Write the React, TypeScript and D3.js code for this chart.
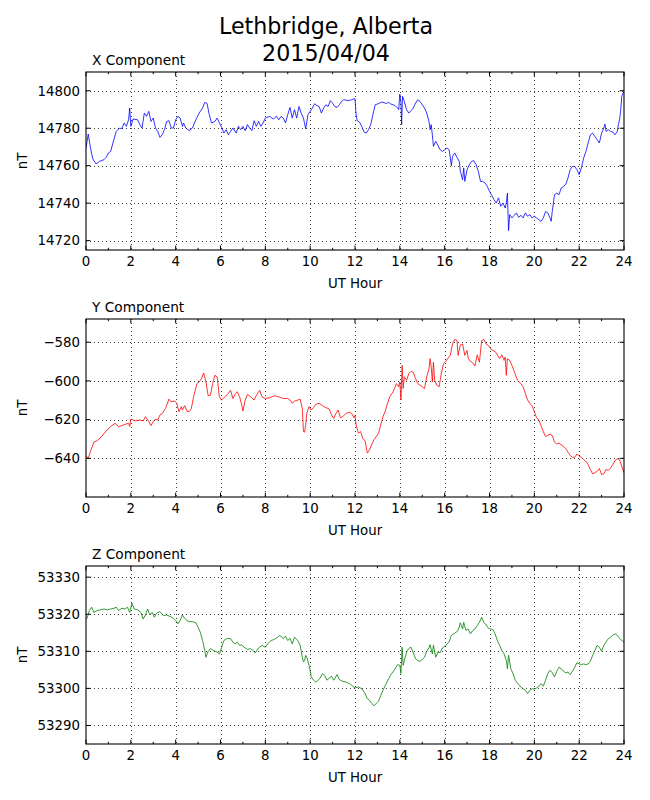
import * as d3 from 'd3';

// Magnetometer readings, [UT hour, nT]
const xComponent: [number, number][] = [
  [0, 14769.4], [0.1, 14776.9], [0.2, 14769.4], [0.3, 14763.7], [0.45, 14760.9], [0.6, 14762.3], [0.8, 14763.2], [0.9, 14764.4],
  [1.0, 14766.8], [1.1, 14767.6], [1.2, 14772.1], [1.35, 14778.3], [1.5, 14780.1], [1.6, 14779.7], [1.7, 14782.8], [1.8, 14781.0],
  [1.9, 14784.5], [1.95, 14790.8], [2.0, 14781.0], [2.1, 14784.9], [2.3, 14784.5], [2.4, 14781.9], [2.5, 14780.1], [2.6, 14788.1],
  [2.7, 14786.3], [2.8, 14789.0], [2.9, 14783.6], [3.0, 14785.4], [3.1, 14780.1], [3.2, 14778.3], [3.3, 14775.1], [3.4, 14776.5],
  [3.5, 14779.2], [3.6, 14783.6], [3.7, 14784.0], [3.8, 14780.1], [3.9, 14780.1], [4.0, 14784.5], [4.1, 14786.3], [4.2, 14785.4],
  [4.3, 14781.0], [4.35, 14782.8], [4.45, 14780.1], [4.6, 14778.7], [4.75, 14780.1], [4.9, 14784.5], [5.05, 14788.1], [5.2, 14790.8],
  [5.3, 14793.8], [5.4, 14793.2], [5.5, 14787.2], [5.6, 14782.8], [5.75, 14783.6], [5.85, 14785.4], [5.95, 14782.8], [6.05, 14780.4],
  [6.15, 14777.4], [6.25, 14779.2], [6.35, 14776.5], [6.45, 14778.3], [6.55, 14780.1], [6.7, 14777.4], [6.8, 14781.0], [6.9, 14779.2],
  [7.0, 14781.0], [7.1, 14778.7], [7.2, 14781.9], [7.3, 14780.1], [7.4, 14778.7], [7.5, 14784.0], [7.6, 14781.0], [7.7, 14783.6],
  [7.8, 14781.0], [7.9, 14782.8], [8.0, 14785.4], [8.2, 14786.3], [8.35, 14784.9], [8.5, 14786.3], [8.6, 14784.5], [8.7, 14786.3],
  [8.8, 14785.4], [8.9, 14782.8], [9.0, 14787.2], [9.1, 14791.1], [9.2, 14785.4], [9.3, 14789.9], [9.4, 14785.4], [9.5, 14791.6],
  [9.6, 14788.1], [9.7, 14785.4], [9.8, 14779.7], [9.9, 14787.2], [10.0, 14789.0], [10.1, 14790.8], [10.2, 14793.1], [10.3, 14792.0],
  [10.4, 14791.6], [10.5, 14788.1], [10.6, 14790.8], [10.7, 14792.5], [10.8, 14791.6], [10.9, 14794.7], [11.0, 14793.4], [11.1, 14791.6],
  [11.2, 14791.1], [11.3, 14792.5], [11.4, 14794.3], [11.5, 14795.2], [11.7, 14794.7], [11.85, 14795.2], [11.95, 14795.7], [12.0, 14795.7],
  [12.05, 14787.2], [12.1, 14784.0], [12.2, 14783.3], [12.3, 14781.0], [12.4, 14778.0], [12.5, 14777.4], [12.6, 14779.2], [12.7, 14781.9],
  [12.8, 14787.2], [12.9, 14792.5], [13.0, 14792.9], [13.1, 14793.4], [13.2, 14794.0], [13.3, 14793.6], [13.4, 14793.2], [13.5, 14793.8],
  [13.6, 14792.9], [13.7, 14792.5], [13.8, 14792.0], [13.9, 14790.8], [13.95, 14789.9], [14.0, 14798.2], [14.05, 14793.4], [14.08, 14781.9],
  [14.12, 14797.0], [14.2, 14794.3], [14.3, 14789.9], [14.4, 14788.1], [14.5, 14789.3], [14.6, 14790.8], [14.7, 14793.4], [14.8, 14795.2],
  [14.9, 14794.3], [15.0, 14792.5], [15.1, 14790.8], [15.2, 14788.1], [15.3, 14783.6], [15.35, 14779.2], [15.4, 14781.9], [15.45, 14776.5],
  [15.5, 14770.3], [15.6, 14773.0], [15.7, 14770.8], [15.8, 14768.5], [15.9, 14767.6], [16.0, 14768.5], [16.1, 14769.4], [16.2, 14768.5],
  [16.3, 14760.0], [16.35, 14765.0], [16.45, 14766.8], [16.55, 14764.4], [16.65, 14762.3], [16.7, 14757.0], [16.8, 14752.5], [16.85, 14758.8],
  [16.9, 14751.6], [17.0, 14757.9], [17.1, 14760.5], [17.2, 14762.3], [17.3, 14762.7], [17.4, 14760.5], [17.5, 14757.0], [17.6, 14751.6],
  [17.7, 14751.6], [17.8, 14750.8], [17.9, 14749.0], [18.0, 14746.3], [18.1, 14744.2], [18.2, 14741.9], [18.3, 14740.1], [18.4, 14742.8],
  [18.5, 14738.3], [18.6, 14740.1], [18.7, 14737.4], [18.75, 14740.1], [18.8, 14745.4], [18.85, 14725.3], [18.9, 14733.9], [19.0, 14732.1],
  [19.1, 14733.5], [19.2, 14734.8], [19.3, 14732.4], [19.4, 14733.5], [19.5, 14732.1], [19.6, 14734.8], [19.7, 14733.0], [19.8, 14733.9],
  [19.9, 14732.1], [20.0, 14733.0], [20.1, 14732.1], [20.2, 14731.2], [20.3, 14730.3], [20.4, 14732.1], [20.5, 14735.6], [20.6, 14734.8],
  [20.7, 14732.1], [20.75, 14730.3], [20.8, 14735.6], [20.9, 14744.5], [21.0, 14745.4], [21.1, 14744.5], [21.2, 14748.1], [21.3, 14749.0],
  [21.4, 14749.9], [21.5, 14753.4], [21.6, 14757.9], [21.7, 14759.6], [21.8, 14759.6], [21.9, 14757.9], [22.0, 14755.2], [22.1, 14758.8],
  [22.2, 14764.1], [22.3, 14767.6], [22.4, 14772.1], [22.5, 14776.5], [22.6, 14777.4], [22.7, 14775.6], [22.8, 14773.9], [22.9, 14772.1],
  [23.0, 14777.4], [23.1, 14780.1], [23.15, 14782.2], [23.2, 14778.3], [23.3, 14779.2], [23.4, 14778.3], [23.5, 14778.0], [23.6, 14776.5],
  [23.7, 14778.3], [23.75, 14781.9], [23.8, 14784.5], [23.85, 14789.0], [23.9, 14797.0], [24.0, 14799.6],
];

const yComponent: [number, number][] = [
  [0, -638.5], [0.1, -640.2], [0.2, -636.4], [0.35, -631.6], [0.5, -630.9], [0.7, -628.7], [0.9, -625.8], [1.1, -623.6],
  [1.3, -621.9], [1.45, -623.6], [1.6, -623.1], [1.75, -622.4], [1.9, -621.9], [1.95, -623.6], [2.0, -619.7], [2.2, -620.7],
  [2.4, -620.2], [2.55, -620.7], [2.65, -618.5], [2.8, -621.0], [2.9, -623.1], [3.0, -621.0], [3.1, -619.7], [3.2, -620.2],
  [3.3, -617.6], [3.4, -616.8], [3.55, -614.2], [3.7, -609.4], [3.8, -610.8], [3.95, -610.4], [4.05, -611.6], [4.15, -615.9],
  [4.25, -613.3], [4.3, -615.0], [4.4, -612.8], [4.5, -615.6], [4.6, -615.9], [4.7, -614.2], [4.8, -608.2], [4.95, -601.4],
  [5.05, -600.5], [5.15, -598.8], [5.25, -595.9], [5.35, -600.5], [5.45, -607.7], [5.55, -607.4], [5.65, -601.4], [5.75, -597.1],
  [5.85, -597.9], [5.95, -608.2], [6.05, -609.9], [6.2, -608.2], [6.35, -606.5], [6.45, -604.8], [6.55, -609.1], [6.65, -607.0],
  [6.75, -605.6], [6.85, -608.2], [6.95, -612.5], [7.0, -615.6], [7.1, -609.9], [7.2, -607.0], [7.35, -608.2], [7.5, -609.9],
  [7.6, -607.4], [7.75, -604.8], [7.85, -608.2], [8.0, -609.1], [8.2, -608.7], [8.4, -607.7], [8.6, -608.2], [8.8, -609.1],
  [9.0, -609.1], [9.1, -609.9], [9.2, -611.6], [9.3, -610.4], [9.45, -609.9], [9.55, -609.4], [9.65, -614.2], [9.7, -626.2],
  [9.75, -626.5], [9.8, -622.7], [9.85, -616.8], [9.95, -613.3], [10.05, -615.0], [10.15, -613.8], [10.25, -612.1], [10.4, -611.6],
  [10.55, -612.8], [10.7, -613.8], [10.85, -614.5], [10.95, -617.6], [11.05, -619.3], [11.15, -616.8], [11.25, -615.0], [11.35, -619.0],
  [11.45, -618.5], [11.6, -616.8], [11.75, -616.2], [11.85, -616.8], [11.95, -619.0], [12.0, -617.9], [12.05, -622.7], [12.15, -627.0],
  [12.25, -626.2], [12.35, -629.9], [12.45, -630.9], [12.55, -637.3], [12.65, -635.6], [12.75, -632.6], [12.85, -630.4], [12.95, -628.7],
  [13.05, -627.0], [13.15, -622.7], [13.25, -618.5], [13.35, -615.6], [13.45, -611.6], [13.55, -608.2], [13.7, -605.6], [13.85, -601.4],
  [13.95, -603.1], [14.0, -600.5], [14.05, -609.9], [14.1, -592.0], [14.15, -603.9], [14.2, -597.9], [14.3, -599.7], [14.4, -596.2],
  [14.5, -595.0], [14.6, -595.7], [14.7, -598.8], [14.8, -601.4], [14.9, -602.2], [15.0, -603.1], [15.1, -603.9], [15.2, -597.9],
  [15.3, -593.7], [15.35, -588.5], [15.4, -592.8], [15.45, -600.5], [15.5, -590.3], [15.55, -599.7], [15.65, -602.2], [15.75, -603.1],
  [15.85, -596.2], [15.95, -591.1], [16.05, -589.9], [16.15, -588.2], [16.25, -586.8], [16.35, -580.9], [16.45, -578.6], [16.55, -579.1],
  [16.6, -586.8], [16.7, -581.4], [16.8, -580.9], [16.9, -586.8], [17.0, -584.3], [17.05, -588.2], [17.15, -589.9], [17.25, -590.6],
  [17.35, -592.3], [17.45, -586.5], [17.55, -590.3], [17.65, -579.1], [17.75, -578.6], [17.85, -580.9], [17.95, -581.7], [18.05, -583.4],
  [18.15, -584.3], [18.25, -584.8], [18.35, -586.5], [18.45, -588.5], [18.55, -586.5], [18.65, -589.4], [18.7, -587.7], [18.75, -597.1],
  [18.8, -588.5], [18.9, -589.4], [19.0, -592.0], [19.1, -595.0], [19.25, -599.7], [19.4, -601.4], [19.5, -603.1], [19.6, -606.5],
  [19.7, -609.9], [19.8, -611.6], [19.9, -612.8], [20.0, -615.9], [20.1, -619.0], [20.2, -620.2], [20.3, -623.1], [20.4, -626.2],
  [20.5, -628.7], [20.6, -628.2], [20.7, -627.5], [20.8, -628.2], [20.9, -631.6], [21.0, -632.6], [21.1, -632.1], [21.2, -633.0],
  [21.3, -633.8], [21.4, -635.0], [21.5, -636.8], [21.6, -638.5], [21.7, -639.5], [21.8, -639.5], [21.9, -637.8], [22.0, -639.0],
  [22.1, -639.5], [22.2, -640.7], [22.3, -641.5], [22.4, -643.2], [22.5, -645.8], [22.6, -648.0], [22.7, -647.5], [22.8, -646.7],
  [22.9, -645.3], [23.0, -648.4], [23.1, -648.0], [23.2, -645.8], [23.3, -646.3], [23.4, -645.0], [23.5, -643.2], [23.6, -641.2],
  [23.7, -640.2], [23.8, -640.7], [23.9, -644.1], [24.0, -647.5],
];

const zComponent: [number, number][] = [
  [0, 53318.7], [0.05, 53318.9], [0.15, 53321.0], [0.25, 53321.9], [0.35, 53320.5], [0.5, 53321.0], [0.65, 53321.2], [0.8, 53321.4],
  [0.95, 53321.2], [1.1, 53321.4], [1.25, 53321.6], [1.35, 53321.9], [1.45, 53321.0], [1.6, 53321.6], [1.75, 53321.4], [1.85, 53321.9],
  [1.95, 53320.5], [2.05, 53323.0], [2.15, 53321.4], [2.3, 53321.2], [2.45, 53320.5], [2.55, 53318.7], [2.65, 53319.8], [2.75, 53321.4],
  [2.85, 53319.8], [2.95, 53320.5], [3.05, 53319.2], [3.15, 53320.3], [3.3, 53320.7], [3.45, 53319.6], [3.6, 53319.8], [3.75, 53319.4],
  [3.9, 53318.9], [4.0, 53318.3], [4.1, 53317.4], [4.2, 53318.3], [4.3, 53319.8], [4.4, 53318.9], [4.5, 53318.3], [4.6, 53318.0],
  [4.75, 53318.0], [4.9, 53317.7], [5.0, 53316.5], [5.1, 53315.1], [5.2, 53312.9], [5.3, 53310.2], [5.35, 53308.4], [5.45, 53310.0],
  [5.55, 53310.7], [5.7, 53310.2], [5.85, 53309.8], [5.95, 53309.3], [6.05, 53311.1], [6.15, 53312.9], [6.3, 53313.5], [6.45, 53313.4],
  [6.55, 53312.5], [6.65, 53312.0], [6.75, 53312.5], [6.85, 53311.6], [6.95, 53311.7], [7.05, 53311.1], [7.2, 53310.5], [7.35, 53310.7],
  [7.45, 53310.2], [7.55, 53309.6], [7.7, 53310.9], [7.85, 53311.6], [8.0, 53311.1], [8.1, 53312.0], [8.25, 53312.9], [8.4, 53313.2],
  [8.55, 53313.8], [8.65, 53314.3], [8.8, 53313.4], [8.9, 53314.1], [9.0, 53312.9], [9.1, 53313.5], [9.2, 53312.0], [9.3, 53313.8],
  [9.45, 53312.9], [9.55, 53311.6], [9.65, 53308.4], [9.7, 53307.1], [9.75, 53307.5], [9.8, 53308.9], [9.85, 53308.4], [9.95, 53306.2],
  [10.05, 53303.1], [10.15, 53302.2], [10.25, 53301.7], [10.35, 53302.2], [10.45, 53302.8], [10.55, 53304.0], [10.65, 53303.5], [10.75, 53302.2],
  [10.85, 53302.8], [10.95, 53303.3], [11.05, 53302.2], [11.2, 53303.7], [11.3, 53302.4], [11.45, 53301.9], [11.6, 53301.7], [11.75, 53301.3],
  [11.9, 53300.6], [12.0, 53300.1], [12.15, 53300.4], [12.3, 53299.9], [12.45, 53298.6], [12.55, 53297.2], [12.65, 53296.8], [12.75, 53295.9],
  [12.85, 53295.3], [12.95, 53295.9], [13.05, 53296.5], [13.15, 53298.1], [13.25, 53299.5], [13.35, 53300.8], [13.5, 53302.6], [13.6, 53303.7],
  [13.75, 53304.9], [13.9, 53306.4], [14.0, 53306.2], [14.05, 53304.0], [14.1, 53311.1], [14.15, 53306.2], [14.2, 53307.5], [14.3, 53309.8],
  [14.4, 53310.7], [14.5, 53311.1], [14.6, 53309.6], [14.7, 53308.0], [14.8, 53307.5], [14.9, 53307.3], [15.0, 53307.8], [15.1, 53308.4],
  [15.2, 53310.0], [15.3, 53310.9], [15.35, 53311.8], [15.45, 53309.3], [15.5, 53311.6], [15.6, 53308.4], [15.7, 53309.8], [15.8, 53309.6],
  [15.9, 53310.9], [16.05, 53311.6], [16.2, 53312.6], [16.3, 53314.3], [16.4, 53314.7], [16.5, 53315.1], [16.6, 53315.6], [16.7, 53317.7],
  [16.8, 53316.0], [16.85, 53317.8], [16.95, 53315.6], [17.05, 53316.0], [17.15, 53314.7], [17.25, 53315.6], [17.35, 53316.0], [17.45, 53316.9],
  [17.55, 53317.8], [17.65, 53319.2], [17.75, 53317.8], [17.85, 53317.1], [17.95, 53316.2], [18.05, 53316.0], [18.15, 53315.9], [18.25, 53314.7],
  [18.35, 53312.9], [18.45, 53311.6], [18.55, 53310.2], [18.65, 53309.3], [18.75, 53307.5], [18.8, 53305.3], [18.85, 53308.9], [18.95, 53305.3],
  [19.05, 53304.0], [19.15, 53302.2], [19.3, 53301.0], [19.45, 53300.1], [19.6, 53299.5], [19.7, 53298.6], [19.8, 53299.5], [19.9, 53299.9],
  [20.0, 53299.8], [20.1, 53300.1], [20.2, 53300.6], [20.3, 53301.3], [20.4, 53300.6], [20.5, 53302.2], [20.6, 53304.0], [20.7, 53304.9],
  [20.8, 53304.2], [20.9, 53303.1], [21.0, 53304.6], [21.1, 53305.7], [21.2, 53305.3], [21.3, 53304.6], [21.4, 53304.2], [21.5, 53304.4],
  [21.6, 53303.7], [21.7, 53304.6], [21.8, 53305.7], [21.9, 53306.9], [22.0, 53306.6], [22.1, 53306.4], [22.2, 53306.6], [22.3, 53306.4],
  [22.4, 53306.6], [22.5, 53307.3], [22.6, 53308.9], [22.7, 53310.2], [22.8, 53311.6], [22.9, 53311.1], [23.0, 53310.0], [23.1, 53311.6],
  [23.2, 53312.5], [23.3, 53313.4], [23.4, 53313.8], [23.5, 53314.3], [23.6, 53314.7], [23.7, 53314.3], [23.8, 53313.5], [23.9, 53312.9],
  [24.0, 53312.5],
];

const xTicks = [14720, 14740, 14760, 14780, 14800];
const yTicks = [-640, -620, -600, -580];
const zTicks = [53290, 53300, 53310, 53320, 53330];
const hourTicks = [0, 2, 4, 6, 8, 10, 12, 14, 16, 18, 20, 22, 24];
const hourMinorTicks = [1, 3, 5, 7, 9, 11, 13, 15, 17, 19, 21, 23];

const W = 650;
const H = 800;
const FONT = '"DejaVu Sans", sans-serif';
const left = 86;
const right = 624;
const panelH = 178;

const panels = [
  { title: 'X Component', data: xComponent, domain: [14715, 14810], ticks: xTicks, color: '#0000ff', top: 72 },
  { title: 'Y Component', data: yComponent, domain: [-660, -568], ticks: yTicks, color: '#ff0000', top: 319 },
  { title: 'Z Component', data: zComponent, domain: [53285, 53333], ticks: zTicks, color: '#008000', top: 566 },
];

const fmt = (v: number) => (v < 0 ? '\u2212' + Math.abs(v) : String(v));

function Panel({ p }: { p: typeof panels[number] }) {
  const x = d3.scaleLinear().domain([0, 24]).range([left, right]);
  const y = d3.scaleLinear().domain(p.domain).range([p.top + panelH, p.top]);
  const line = d3.line<[number, number]>().x(d => x(d[0])).y(d => y(d[1]));
  const bottom = p.top + panelH;
  const clipId = 'clip-' + p.title[0];
  // snap grid lines to pixel centres so the dots stay crisp
  const px = (v: number) => Math.round(v) + 0.5;

  return (
    <g>
      <clipPath id={clipId}>
        <rect x={left} y={p.top} width={right - left} height={panelH} />
      </clipPath>
      {/* grid */}
      {hourTicks.slice(1, -1).map(h => (
        <line key={'gx' + h} x1={px(x(h))} x2={px(x(h))} y1={p.top} y2={bottom}
          stroke="#000" strokeWidth={1} strokeDasharray="1,3" opacity={0.75} />
      ))}
      {p.ticks.map(t => (
        <line key={'gy' + t} x1={left} x2={right} y1={px(y(t))} y2={px(y(t))}
          stroke="#000" strokeWidth={1} strokeDasharray="1,3" opacity={0.75} />
      ))}
      <path d={line(p.data) || ''} fill="none" stroke={p.color} strokeWidth={0.8}
        strokeLinejoin="round" clipPath={`url(#${clipId})`} />
      {/* ticks, inward on all sides */}
      {hourTicks.map(h => (
        <g key={'tx' + h}>
          <line x1={x(h)} x2={x(h)} y1={bottom} y2={bottom - 4.4} stroke="#000" strokeWidth={1} />
          <line x1={x(h)} x2={x(h)} y1={p.top} y2={p.top + 4.4} stroke="#000" strokeWidth={1} />
          <text x={x(h)} y={bottom + 16} textAnchor="middle" fontSize={13.33} fontFamily={FONT}>{h}</text>
        </g>
      ))}
      {hourMinorTicks.map(h => (
        <g key={'mx' + h}>
          <line x1={x(h)} x2={x(h)} y1={bottom} y2={bottom - 2.2} stroke="#000" strokeWidth={1} />
          <line x1={x(h)} x2={x(h)} y1={p.top} y2={p.top + 2.2} stroke="#000" strokeWidth={1} />
        </g>
      ))}
      {p.ticks.map(t => (
        <g key={'ty' + t}>
          <line x1={left} x2={left + 4.4} y1={y(t)} y2={y(t)} stroke="#000" strokeWidth={1} />
          <line x1={right} x2={right - 4.4} y1={y(t)} y2={y(t)} stroke="#000" strokeWidth={1} />
          <text x={left - 6} y={y(t)} dy="0.36em" textAnchor="end" fontSize={13.33} fontFamily={FONT}>{fmt(t)}</text>
        </g>
      ))}
      <rect x={left} y={p.top} width={right - left} height={panelH} fill="none" stroke="#000" strokeWidth={1.1} />
      <text x={left + 6} y={p.top - 7} fontSize={13.7} fontFamily={FONT}>{p.title}</text>
      <text x={(left + right) / 2} y={bottom + 38} textAnchor="middle" fontSize={13.33} fontFamily={FONT}>UT Hour</text>
      <text transform={`translate(27,${p.top + panelH / 2}) rotate(-90)`} textAnchor="middle"
        fontSize={13.33} fontFamily={FONT}>nT</text>
    </g>
  );
}

export default function App() {
  return (
    <div style={{ position: 'absolute', left: 0, top: 0, width: W, height: H, background: '#fff' }}>
      <svg width={W} height={H} style={{ display: 'block' }}>
        <rect width={W} height={H} fill="#fff" />
        <text x={326} y={33.5} textAnchor="middle" fontSize={22.2} fontFamily={FONT}>Lethbridge, Alberta</text>
        <text x={326} y={60.5} textAnchor="middle" fontSize={22.2} fontFamily={FONT}>2015/04/04</text>
        {panels.map(p => <Panel key={p.title} p={p} />)}
      </svg>
    </div>
  );
}
